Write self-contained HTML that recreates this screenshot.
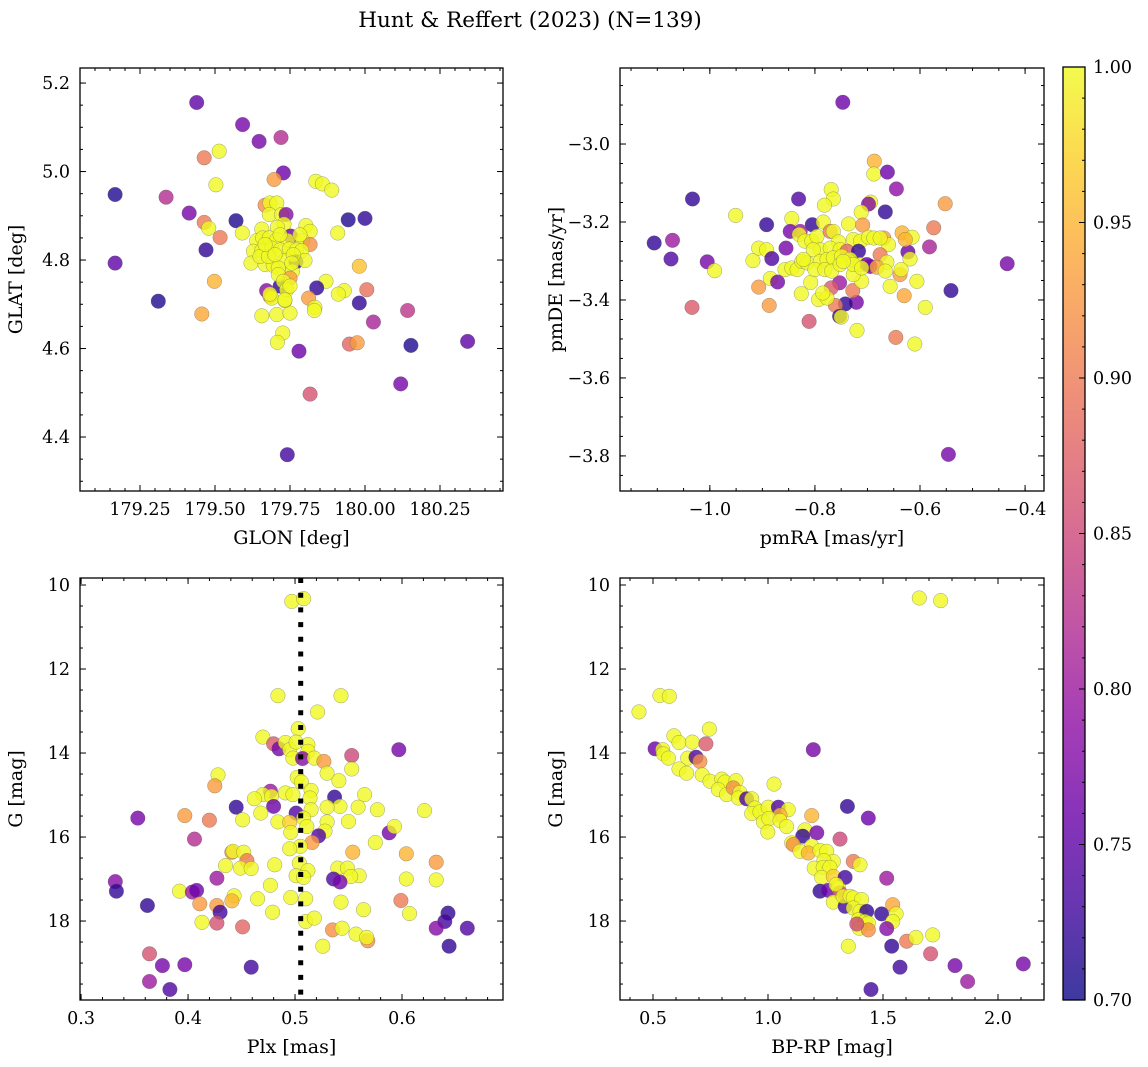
<!DOCTYPE html>
<html><head><meta charset="utf-8">
<style>
html,body{margin:0;padding:0;background:#fff;}
svg{display:block;font-family:"DejaVu Serif","Liberation Serif",serif;}
</style></head>
<body>
<svg id="fig" width="1148" height="1067" viewBox="0 0 1148 1067" xmlns="http://www.w3.org/2000/svg">
<text x="530" y="27" font-size="21.5" text-anchor="middle">Hunt &amp; Reffert (2023) (N=139)</text>
</svg>
<script>
// ---- Panel A: GLON vs GLAT ----
const glonA = [179.439,179.592,179.647,179.72,179.464,179.514,179.728,179.697,179.836,179.858,179.889,179.167,179.503,179.337,179.414,179.464,179.479,179.57,179.517,179.591,179.47,179.944,180.0,179.909,179.167,179.498,179.981,179.311,179.456,179.87,179.839,179.931,179.911,180.006,179.981,179.812,179.833,179.831,180.142,180.028,179.948,179.974,180.153,180.342,179.78,180.119,179.817,179.741,179.656,179.706,179.75,179.726,179.708,179.672,179.683,179.733,179.717,
179.667,179.683,179.706,179.681,179.722,179.737,179.730,179.656,179.708,179.803,179.817,179.752,179.639,179.659,179.681,179.706,179.742,179.792,179.817,179.628,179.656,179.689,179.717,179.748,179.772,179.789,179.620,179.667,179.694,179.733,179.770,179.800,179.650,179.678,179.711,179.711,179.758,179.750,179.728,179.739,179.750,179.689,179.683,179.733,179.700,179.761,179.783,179.717,179.667,179.756];
const glatA = [5.156,5.106,5.068,5.077,5.031,5.046,4.997,4.982,4.978,4.972,4.958,4.948,4.970,4.942,4.906,4.885,4.872,4.889,4.851,4.861,4.823,4.891,4.894,4.861,4.793,4.752,4.786,4.707,4.678,4.752,4.737,4.731,4.723,4.733,4.703,4.714,4.693,4.686,4.686,4.660,4.610,4.613,4.607,4.616,4.594,4.520,4.497,4.360,4.674,4.677,4.680,4.635,4.614,4.731,4.718,4.708,4.741,
4.924,4.929,4.929,4.903,4.903,4.903,4.881,4.870,4.874,4.878,4.865,4.854,4.844,4.850,4.850,4.846,4.844,4.844,4.835,4.820,4.821,4.827,4.823,4.825,4.823,4.821,4.793,4.790,4.788,4.799,4.796,4.799,4.808,4.808,4.782,4.767,4.774,4.759,4.752,4.733,4.741,4.714,4.723,4.710,4.812,4.812,4.857,4.857,4.835,4.793];
const probA = [0.75,0.77,0.77,0.82,0.9,1,0.76,0.93,1,1,1,0.71,1,0.82,0.77,0.9,1,0.71,0.9,1,0.72,0.71,0.72,1,0.75,0.95,0.96,0.71,0.94,1,0.72,1,1,0.89,0.72,0.93,1,1,0.83,0.81,0.88,0.93,0.71,0.75,0.76,0.77,0.86,0.73,1,1,1,1,1,0.78,0.93,1,0.72,
0.92,1,1,1,1,0.78,1,1,1,1,1,0.76,1,1,1,1,1,1,0.92,1,1,1,1,1,1,1,1,1,1,1,0.72,1,1,1,1,1,1,0.93,1,1,1,1,1,1,1,1,1,1,1,1];

// ---- Panel B: pmRA vs pmDE ----
const pmraB = [-0.747,-0.687,-0.688,-0.662,-0.645,-1.033,-0.831,-0.769,-0.765,-0.782,-0.694,-0.698,-0.552,-0.712,-0.666,-0.951,-0.892,-0.805,-0.844,-0.784,-0.736,-0.709,-0.574,-1.106,-1.071,-1.074,-1.005,-0.991,-0.918,-0.907,-0.892,-0.882,-0.855,-0.847,-0.828,-0.830,-0.582,-0.434,-0.541,-0.546,-0.623,-0.619,-0.634,-0.615,-0.628,-0.669,-0.660,-0.676,-0.663,-0.638,-0.636,-0.606,-0.630,-0.657,-0.590,-0.646,-0.610,-0.720,-0.721,-0.742,-0.761,-0.753,-0.750,-0.811,-0.728,-0.753,-0.769,-1.034,-0.907,-0.887,-0.885,-0.871,-0.826,-0.808,-0.793,-0.777,-0.785,-0.711,-0.727,
-0.819,-0.806,-0.796,-0.771,-0.765,-0.755,-0.727,-0.713,-0.698,-0.688,-0.676,-0.790,-0.771,-0.752,-0.739,-0.717,-0.803,-0.857,-0.844,-0.834,-0.825,-0.815,-0.790,-0.777,-0.765,-0.749,-0.733,-0.714,-0.701,-0.695,-0.682,-0.666,-0.800,-0.781,-0.768,-0.752,-0.727,-0.711,-0.822,-0.746];
const pmdeB = [-2.893,-3.044,-3.077,-3.072,-3.115,-3.141,-3.141,-3.117,-3.141,-3.157,-3.149,-3.154,-3.153,-3.175,-3.174,-3.183,-3.207,-3.207,-3.191,-3.200,-3.205,-3.208,-3.215,-3.254,-3.247,-3.295,-3.302,-3.325,-3.299,-3.267,-3.271,-3.294,-3.267,-3.224,-3.224,-3.232,-3.264,-3.307,-3.376,-3.796,-3.277,-3.295,-3.228,-3.239,-3.245,-3.241,-3.258,-3.284,-3.303,-3.335,-3.322,-3.352,-3.389,-3.365,-3.419,-3.496,-3.513,-3.478,-3.406,-3.410,-3.414,-3.442,-3.444,-3.455,-3.376,-3.356,-3.369,-3.419,-3.367,-3.414,-3.345,-3.354,-3.384,-3.355,-3.399,-3.395,-3.382,-3.352,-3.335,
-3.249,-3.249,-3.237,-3.224,-3.224,-3.251,-3.245,-3.249,-3.239,-3.241,-3.241,-3.271,-3.267,-3.271,-3.275,-3.275,-3.271,-3.322,-3.318,-3.322,-3.301,-3.305,-3.301,-3.296,-3.292,-3.288,-3.296,-3.309,-3.309,-3.314,-3.316,-3.326,-3.322,-3.322,-3.326,-3.309,-3.309,-3.318,-3.296,-3.301];
const probB = [0.76,0.95,1,0.76,0.79,0.72,0.74,1,1,1,1,0.78,0.93,1,0.72,1,0.72,0.72,1,1,1,0.93,0.9,0.72,0.8,0.74,0.77,1,1,1,1,0.74,0.77,0.77,0.8,1,0.81,0.77,0.72,0.77,0.76,1,0.95,1,0.95,0.93,1,0.9,1,0.93,1,1,0.94,1,1,0.9,1,1,0.77,0.72,0.9,0.72,1,0.86,0.9,0.8,0.87,0.87,0.93,0.93,1,0.77,1,1,1,1,1,1,1,
1,1,1,0.9,1,1,1,1,1,1,1,1,1,1,0.88,0.72,1,1,1,1,1,1,1,1,1,1,1,1,0.76,0.77,0.94,1,1,1,1,1,1,1,1,1];

// ---- Panel C: Plx vs G ----
const plxC = [0.497,0.508,0.484,0.543,0.521,0.503,0.470,0.480,0.485,0.491,0.495,0.501,0.512,0.512,0.498,0.507,0.518,0.527,0.530,0.553,0.597,0.553,0.541,0.428,0.425,0.502,0.506,0.515,0.514,0.477,0.470,0.478,0.462,0.491,0.498,0.537,0.542,0.565,0.559,0.577,0.621,0.530,0.515,0.501,0.508,0.480,0.445,0.468,0.397,0.353,0.420,0.451,0.484,0.495,0.496,0.511,0.530,0.528,0.550,0.522,0.516,0.505,0.495,0.588,0.593,0.575,0.406,0.441,0.442,0.452,0.455,0.435,0.449,0.459,0.481,0.504,0.512,0.501,0.508,0.554,0.604,0.632,0.632,0.604,0.540,0.549,0.560,0.552,0.536,0.542,0.427,0.332,0.333,0.477,0.392,0.404,0.408,0.443,0.441,0.465,0.496,0.510,0.543,0.564,0.599,0.607,0.362,0.411,0.427,0.430,0.479,0.413,0.427,0.451,0.510,0.518,0.535,0.544,0.557,0.568,0.567,0.526,0.643,0.640,0.632,0.661,0.644,0.364,0.376,0.397,0.459,0.364,0.383];
const gmagC = [10.39,10.325,12.635,12.635,13.024,13.42,13.62,13.78,13.90,13.75,13.92,13.74,13.80,13.96,14.12,14.13,14.12,14.20,14.48,14.06,13.92,14.38,14.66,14.52,14.78,14.58,14.69,14.89,15.07,14.91,14.99,15.03,15.09,14.95,14.99,15.05,15.27,14.99,15.29,15.35,15.37,15.29,15.35,15.43,15.55,15.27,15.29,15.43,15.49,15.55,15.60,15.59,15.64,15.65,15.89,15.75,15.64,15.86,15.63,15.97,16.13,16.22,16.28,15.90,15.75,16.13,16.05,16.36,16.34,16.36,16.56,16.68,16.74,16.75,16.66,16.62,16.80,16.92,16.96,16.36,16.40,16.60,17.02,17.00,16.74,16.74,16.92,16.94,17.00,17.07,16.98,17.06,17.29,17.15,17.29,17.31,17.27,17.40,17.52,17.47,17.44,17.47,17.55,17.73,17.51,17.82,17.63,17.59,17.63,17.79,17.79,18.03,18.05,18.14,18.01,17.93,18.21,18.17,18.31,18.47,18.39,18.60,17.81,18.01,18.17,18.17,18.60,18.78,19.06,19.04,19.10,19.44,19.63];
const probC = [1,1,1,1,1,1,1,0.87,0.77,1,1,1,1,1,1,0.78,1,0.93,1,0.85,0.77,1,1,1,0.93,1,1,1,1,0.8,1,1,1,1,1,0.72,1,1,1,1,1,1,1,0.74,1,0.76,0.72,1,0.93,0.77,0.9,1,1,0.97,1,1,1,1,1,0.74,0.93,1,1,0.77,1,1,0.82,0.91,1,1,0.9,1,1,1,1,1,1,1,1,0.95,0.95,0.93,1,1,1,1,1,1,0.74,0.77,0.8,0.78,0.72,1,1,0.8,0.76,1,0.95,1,1,1,1,1,0.9,1,0.72,0.93,0.93,0.73,1,1,0.86,0.88,1,1,0.92,1,1,0.92,1,1,0.72,0.73,0.78,0.74,0.72,0.86,0.77,0.77,0.73,0.8,0.74];
const plxRef = [0.5053];

// ---- Panel D: BP-RP vs G ----
const bprpD = [1.658,1.751,0.530,0.571,0.439,0.745,0.591,0.613,0.671,0.730,0.509,0.542,0.545,0.567,0.651,0.687,0.704,1.197,0.613,0.646,0.714,0.748,0.799,0.813,0.861,1.026,0.784,0.820,0.849,0.878,0.871,0.907,0.929,0.943,0.929,0.965,1.001,1.045,1.088,1.052,0.980,1.004,1.052,1.081,0.999,1.345,1.436,1.190,1.161,1.151,1.212,1.313,1.103,1.110,1.190,1.139,1.175,1.226,1.255,1.284,1.371,1.400,1.243,1.201,1.240,1.269,1.233,1.284,1.335,1.516,1.226,1.262,1.306,1.313,1.296,1.284,1.335,1.327,1.357,1.371,1.407,1.371,1.400,1.429,1.494,1.542,1.557,1.542,1.393,1.422,1.436,1.397,1.436,1.386,1.516,1.603,1.643,1.716,1.707,1.349,1.538,1.574,1.813,1.868,2.110,1.448];
const gmagD = [10.31,10.37,12.63,12.65,13.02,13.43,13.59,13.75,13.74,13.78,13.90,13.92,14.02,14.12,14.12,14.10,14.20,13.92,14.38,14.48,14.52,14.67,14.62,14.69,14.66,14.74,14.87,14.99,14.83,14.94,15.07,15.09,15.09,15.31,15.44,15.40,15.29,15.29,15.35,15.48,15.64,15.56,15.61,15.75,15.88,15.27,15.55,15.49,15.83,15.98,15.90,16.05,16.14,16.18,16.21,16.34,16.38,16.32,16.34,16.58,16.58,16.66,16.56,16.74,16.72,16.72,16.96,16.94,16.96,16.98,17.29,17.27,17.21,17.33,17.13,17.55,17.65,17.41,17.41,17.45,17.49,17.69,17.77,17.77,17.83,17.61,17.83,18.01,17.97,18.01,18.05,18.17,18.21,18.07,18.18,18.48,18.39,18.33,18.78,18.60,18.60,19.10,19.06,19.44,19.02,19.63];
const probD = [1,1,1,1,1,1,1,1,1,0.87,0.76,1,1,1,1,0.74,0.92,0.77,1,1,1,1,1,1,1,1,1,1,0.92,1,1,0.74,1,1,1,1,1,0.74,1,0.95,1,1,1,1,1,0.72,0.76,0.95,1,0.72,0.77,0.85,1,0.92,1,1,0.95,1,1,1,0.9,1,1,1,1,1,1,0.97,0.73,0.8,0.72,0.76,1,0.85,1,1,0.73,1,1,1,1,1,1,0.72,0.72,0.94,1,1,1,1,1,1,0.92,0.85,0.78,0.9,1,1,0.86,1,0.72,0.73,0.77,0.8,0.77,0.73];

// colorbar
const cbTicks = [0.70,0.75,0.80,0.85,0.90,0.95,1.00];

const NS = "http://www.w3.org/2000/svg";
const svg = document.getElementById('fig');
const PL = [[13,8,135],[65,4,157],[106,0,168],[143,13,164],[177,42,144],[204,71,120],[225,100,98],[242,132,75],[252,166,54],[252,206,37],[240,249,33]];
function plasma(t){t=Math.max(0,Math.min(1,t));const f=t*10,i=Math.min(9,Math.floor(f)),u=f-i;const a=PL[i],b=PL[i+1];return 'rgb('+a.map((v,k)=>Math.round(v+(b[k]-v)*u)).join(',')+')';}
function pcol(p){return plasma((p-0.7)/0.3);}
function mk(tag,attrs,parent){const e=document.createElementNS(NS,tag);for(const k in attrs)e.setAttribute(k,attrs[k]);(parent||svg).appendChild(e);return e;}
function rng(a,b,s){const r=[];for(let v=a;v<=b+s*1e-6;v+=s)r.push(+v.toFixed(6));return r;}

function panel(o){
  const g=mk('g',{});
  
  
  const sx=v=>o.L+(v-o.x0)/(o.x1-o.x0)*(o.R-o.L);
  const sy=v=>o.B-(v-o.y0)/(o.y1-o.y0)*(o.B-o.T);
  const clipId='clip-'+o.name;
  const cp=mk('clipPath',{id:clipId},g);mk('rect',{x:o.L,y:o.T,width:o.R-o.L,height:o.B-o.T},cp);
  const pts=mk('g',{'clip-path':'url(#'+clipId+')'},g);
  
  
  for(let i=0;i<o.xs.length;i++){
    const c=mk('circle',{cx:sx(o.xs[i]).toFixed(1),cy:sy(o.ys[i]).toFixed(1),r:7.3,fill:pcol(o.ps[i]),'fill-opacity':0.8,stroke:'#555','stroke-opacity':0.55,'stroke-width':0.5},pts);
    
    
  }
  if(o.vline){
    const vl=mk('line',{x1:sx(o.vline),x2:sx(o.vline),y1:o.T,y2:o.B,stroke:'#000','stroke-width':5,'stroke-dasharray':'5 9.7'},g);
    
    
  }
  const fr=mk('rect',{x:o.L,y:o.T,width:o.R-o.L,height:o.B-o.T,fill:'none',stroke:'#000','stroke-width':1.3},g);
  
  
  const tk=mk('g',{stroke:'#000','stroke-width':1},g);
  const inX=v=>v>=Math.min(o.x0,o.x1)-1e-9&&v<=Math.max(o.x0,o.x1)+1e-9;
  const inY=v=>v>=Math.min(o.y0,o.y1)-1e-9&&v<=Math.max(o.y0,o.y1)+1e-9;
  o.xminor.filter(inX).forEach(v=>{const x=sx(v);mk('line',{x1:x,x2:x,y1:o.B,y2:o.B-3},tk);mk('line',{x1:x,x2:x,y1:o.T,y2:o.T+3},tk);});
  o.yminor.filter(inY).forEach(v=>{const y=sy(v);mk('line',{x1:o.L,x2:o.L+3,y1:y,y2:y},tk);mk('line',{x1:o.R,x2:o.R-3,y1:y,y2:y},tk);});
  o.xmajor.filter(inX).forEach(v=>{const x=sx(v);mk('line',{x1:x,x2:x,y1:o.B,y2:o.B-6},tk);mk('line',{x1:x,x2:x,y1:o.T,y2:o.T+6},tk);
    const t=mk('text',{x:x,y:o.B+24,'font-size':17.5,'text-anchor':'middle'},g);t.textContent=o.xfmt(v);
    
    });
  o.ymajor.filter(inY).forEach(v=>{const y=sy(v);mk('line',{x1:o.L,x2:o.L+6,y1:y,y2:y},tk);mk('line',{x1:o.R,x2:o.R-6,y1:y,y2:y},tk);
    const t=mk('text',{x:o.L-10,y:y+6,'font-size':17.5,'text-anchor':'end'},g);t.textContent=o.yfmt(v);
    
    });
  const xl=mk('text',{x:(o.L+o.R)/2,y:o.B+53,'font-size':19,'text-anchor':'middle'},g);xl.textContent=o.xlabel;
  
  
  const yx=o.L-58,yc=(o.T+o.B)/2;
  const yl=mk('text',{x:yx,y:yc,'font-size':19,'text-anchor':'middle',transform:'rotate(-90 '+yx+' '+yc+')'},g);yl.textContent=o.ylabel;
  
  
}
const mfmt=(d)=>v=>v.toFixed(d).replace('-','\u2212');
panel({name:'glon-glat-panel',L:80,R:503,T:68,B:491,x0:179.05,x1:180.46,y0:4.278,y1:5.234,xs:glonA,ys:glatA,ps:probA,
  xmajor:rng(179.0,180.5,0.25),xminor:rng(179.0,180.5,0.05),ymajor:rng(4.2,5.4,0.2),yminor:rng(4.2,5.4,0.05),xfmt:mfmt(2),yfmt:mfmt(1),xlabel:'GLON [deg]',ylabel:'GLAT [deg]'});
panel({name:'pm-panel',L:620,R:1044,T:68,B:491,x0:-1.171,x1:-0.364,y0:-3.890,y1:-2.805,xs:pmraB,ys:pmdeB,ps:probB,
  xmajor:rng(-1.2,-0.2,0.2),xminor:rng(-1.2,-0.2,0.05),ymajor:rng(-4.0,-2.8,0.2),yminor:rng(-4.0,-2.8,0.05),xfmt:mfmt(1),yfmt:mfmt(1),xlabel:'pmRA [mas/yr]',ylabel:'pmDE [mas/yr]'});
panel({name:'plx-g-panel',L:80,R:503,T:578,B:1000,x0:0.299,x1:0.6944,y0:19.88,y1:9.833,xs:plxC,ys:gmagC,ps:probC,vline:plxRef[0],
  xmajor:rng(0.3,0.7,0.1),xminor:rng(0.3,0.7,0.02),ymajor:rng(10,20,2),yminor:rng(9.5,20,0.5),xfmt:mfmt(1),yfmt:v=>String(Math.round(v)),xlabel:'Plx [mas]',ylabel:'G [mag]'});
panel({name:'cmd-panel',L:620,R:1044,T:578,B:1000,x0:0.3565,x1:2.2,y0:19.88,y1:9.833,xs:bprpD,ys:gmagD,ps:probD,
  xmajor:rng(0.5,2.0,0.5),xminor:rng(0.3,2.2,0.1),ymajor:rng(10,20,2),yminor:rng(9.5,20,0.5),xfmt:mfmt(1),yfmt:v=>String(Math.round(v)),xlabel:'BP-RP [mag]',ylabel:'G [mag]'});

// colorbar
const cb=mk('g',{});


const defs=mk('defs',{},cb);
const lg=mk('linearGradient',{id:'plasmaGrad',x1:0,y1:1,x2:0,y2:0},defs);
for(let i=0;i<=20;i++){mk('stop',{offset:(i/20),'stop-color':plasma(i/20),'stop-opacity':0.8},lg);}
const CT=67,CB=1000,CL=1063,CR=1085;
mk('rect',{x:CL,y:CT,width:CR-CL,height:CB-CT,fill:'url(#plasmaGrad)',stroke:'#000','stroke-width':1.3},cb);
const cy=v=>CB-(v-0.7)/0.3*(CB-CT);
rng(0.70,1.0,0.01).forEach(v=>mk('line',{x1:CR,x2:CR-3,y1:cy(v),y2:cy(v),stroke:'#000'},cb));
cbTicks.forEach(v=>{mk('line',{x1:CR,x2:CR-6,y1:cy(v),y2:cy(v),stroke:'#000'},cb);
  const t=mk('text',{x:CR+8,y:cy(v)+6,'font-size':17.5},cb);t.textContent=v.toFixed(2);
  
  });
</script>
</body></html>
